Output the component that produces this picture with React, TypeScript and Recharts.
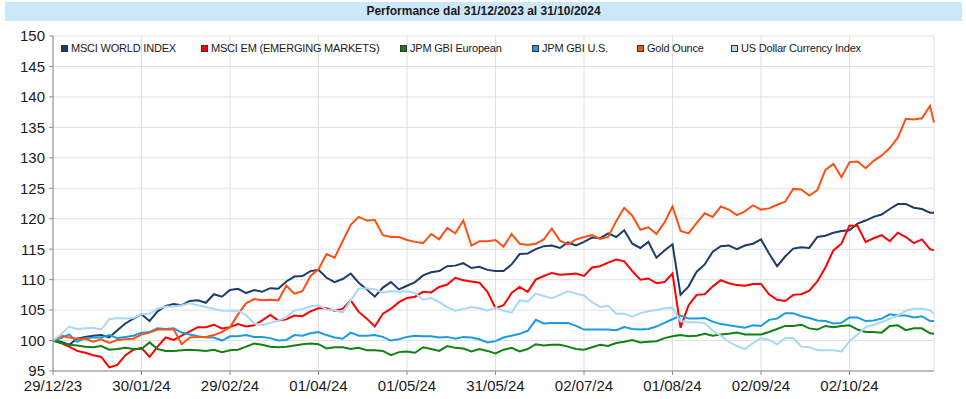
import React from 'react';
import { LineChart, Line, XAxis, YAxis, CartesianGrid } from 'recharts';

// trading-day index of each sample (every second session + last one)
const days = [
  0, 2, 4, 6, 8, 10, 12, 14, 16, 18, 20, 22, 24, 26, 28, 30, 32, 34, 36, 38, 40, 42, 44,
  46, 48, 50, 52, 54, 56, 58, 60, 62, 64, 66, 68, 70, 72, 74, 76, 78, 80, 82, 84, 86, 88,
  90, 92, 94, 96, 98, 100, 102, 104, 106, 108, 110, 112, 114, 116, 118, 120, 122, 124, 126, 128, 130, 132,
  134, 136, 138, 140, 142, 144, 146, 148, 150, 152, 154, 156, 158, 160, 162, 164, 166, 168, 170, 172, 174, 176,
  178, 180, 182, 184, 186, 188, 190, 192, 194, 196, 198, 200, 202, 204, 206, 208, 210, 212, 214, 216, 218, 219,
];

const tickDays = [0, 22, 44, 66, 88, 110, 132, 154, 176, 198];
const tickLabels = ['29/12/23', '30/01/24', '29/02/24', '01/04/24', '01/05/24', '31/05/24', '02/07/24', '01/08/24', '02/09/24', '02/10/24'];
const yTicks = [95, 100, 105, 110, 115, 120, 125, 130, 135, 140, 145, 150];

const msciWorld = [
  100, 99.8, 99.3, 100.3, 100.6, 100.8, 100.9, 100.5, 101.7, 102.8, 103.6, 104.3, 103.2, 104.8, 105.7, 106.0, 105.8, 106.5, 106.6, 106.2, 107.6, 107.2, 108.3,
  108.5, 107.8, 108.3, 108.0, 108.6, 108.5, 109.7, 110.5, 110.6, 111.4, 111.6, 110.3, 109.6, 110.1, 111.0, 109.5, 108.4, 107.2, 108.7, 109.6, 108.4, 109.0,
  109.6, 110.7, 111.2, 111.4, 112.2, 112.3, 112.7, 111.9, 112.1, 111.6, 111.4, 111.4, 112.5, 114.2, 114.3, 115.0, 115.5, 115.6, 115.2, 116.1, 115.6, 116.2,
  116.9, 116.8, 117.6, 117.0, 118.1, 115.9, 115.2, 116.2, 113.6, 114.8, 115.8, 107.5, 108.9, 111.3, 112.5, 114.6, 115.5, 115.6, 115.0, 115.6, 115.9, 116.6,
  114.3, 112.2, 113.8, 115.1, 115.3, 115.2, 117.0, 117.2, 117.7, 118.0, 118.1, 119.2, 119.7, 120.3, 120.7, 121.6, 122.4, 122.4, 121.8, 121.6, 121.0, 121.0,
];

const msciEm = [
  100, 99.6, 99.0, 98.3, 98.0, 97.6, 97.3, 95.6, 96.0, 97.6, 98.5, 98.8, 97.3, 99.0, 100.5, 100.1, 100.8, 101.5, 102.2, 102.2, 102.6, 102.0, 102.2,
  102.7, 102.3, 102.5, 103.3, 104.2, 103.3, 103.5, 104.1, 104.0, 104.8, 105.3, 105.3, 104.9, 105.2, 106.6, 104.7, 103.6, 102.3, 104.4, 105.2, 106.3, 107.0,
  107.2, 108.0, 107.9, 108.8, 109.2, 110.3, 109.9, 109.7, 109.5, 108.0, 105.3, 105.8, 107.8, 108.8, 108.0, 110.0, 110.6, 111.1, 110.8, 110.9, 111.0, 110.6,
  112.0, 112.2, 112.8, 113.3, 113.0, 111.4, 110.0, 110.2, 109.4, 109.6, 111.0, 102.1, 105.8, 107.5, 107.6, 108.9, 109.9, 109.4, 109.1, 109.0, 109.3, 109.3,
  107.6, 106.7, 106.5, 107.5, 107.6, 108.2, 109.7, 112.0, 114.8, 115.9, 118.9, 118.8, 116.2, 116.8, 117.3, 116.3, 117.7, 117.0, 116.0, 116.6, 115.0, 114.8,
];

const gbiEuropean = [
  100, 99.6, 99.3, 99.2, 99.0, 98.9, 99.1, 98.5, 98.6, 98.8, 98.6, 98.6, 99.7, 98.6, 98.3, 98.3, 98.4, 98.5, 98.4, 98.3, 98.5, 98.1, 98.4,
  98.5, 99.0, 99.5, 99.3, 99.0, 98.9, 99.0, 99.2, 99.4, 99.5, 99.4, 98.7, 98.9, 98.9, 98.6, 98.8, 98.4, 98.4, 98.3, 97.6, 98.1, 98.2,
  98.0, 98.9, 98.6, 98.3, 99.1, 98.8, 98.7, 98.2, 98.6, 98.3, 97.9, 98.5, 98.8, 98.2, 98.6, 99.4, 99.2, 99.3, 99.3, 99.0, 98.6, 98.5,
  98.9, 99.3, 99.1, 99.6, 99.8, 100.1, 99.7, 99.8, 99.9, 100.4, 100.7, 100.9, 100.7, 100.8, 101.1, 100.8, 101.0, 101.1, 101.3, 101.0, 101.0, 101.0,
  101.4, 101.9, 102.4, 102.4, 102.6, 102.0, 101.8, 102.4, 102.2, 102.4, 102.5, 101.8, 101.4, 101.4, 101.3, 102.4, 102.5, 101.7, 102.0, 102.0, 101.2, 101.1,
];

const gbiUs = [
  100, 100.4, 101.0, 99.8, 100.4, 100.5, 100.5, 100.9, 100.4, 100.6, 100.8, 101.3, 101.4, 102.0, 101.9, 102.0, 101.3, 101.0, 100.7, 100.5, 100.5, 100.0, 100.7,
  100.7, 100.9, 100.6, 100.6, 100.4, 100.0, 100.1, 100.9, 100.8, 101.2, 101.4, 100.9, 100.5, 100.3, 101.3, 100.8, 100.8, 100.9, 100.6, 100.0, 100.2, 100.6,
  100.8, 100.7, 100.7, 100.5, 100.6, 100.3, 100.6, 100.5, 100.2, 99.7, 99.9, 100.5, 100.8, 101.1, 101.6, 103.4, 102.8, 102.9, 102.9, 102.9, 102.4, 101.8,
  101.8, 101.8, 101.8, 101.7, 102.2, 101.9, 101.8, 101.9, 102.3, 102.9, 103.5, 104.1, 103.6, 103.6, 103.7, 103.1, 102.7, 102.5, 102.3, 102.1, 102.5, 102.4,
  103.4, 103.6, 104.5, 104.5, 104.0, 103.7, 103.3, 103.2, 102.8, 102.9, 103.8, 103.8, 103.2, 103.3, 103.6, 104.3, 104.1, 104.1, 103.8, 104.0, 103.2, 103.2,
];

const goldOunce = [
  100, 100.8, 100.5, 100.3, 100.3, 99.8, 100.2, 99.6, 100.1, 100.2, 100.3, 101.0, 101.3, 101.8, 101.8, 101.8, 99.4, 100.5, 100.6, 100.6, 100.9, 101.4, 102.2,
  104.3, 106.1, 106.8, 106.6, 106.7, 106.6, 109.0, 107.7, 108.1, 110.6, 111.7, 114.2, 113.6, 116.3, 119.0, 120.3, 119.7, 119.8, 117.3, 117.0, 117.0, 116.5,
  116.2, 116.0, 117.5, 116.6, 118.5, 117.6, 119.7, 115.6, 116.3, 116.3, 116.5, 115.4, 117.5, 115.9, 115.7, 115.9, 116.6, 118.4, 116.4, 115.8, 116.6, 117.0,
  117.3, 116.7, 117.0, 119.6, 121.8, 120.5, 118.2, 118.6, 117.5, 119.4, 122.0, 118.0, 117.6, 119.3, 120.9, 120.3, 122.0, 121.5, 120.6, 121.2, 122.2, 121.5,
  121.7, 122.3, 122.8, 124.9, 124.8, 123.8, 124.7, 128.0, 129.0, 126.8, 129.3, 129.4, 128.3, 129.5, 130.4, 131.6, 133.3, 136.4, 136.3, 136.5, 138.5, 135.8,
];

const usDollar = [
  100, 101.0, 102.3, 101.9, 102.0, 102.1, 101.8, 103.5, 103.7, 103.6, 103.7, 104.3, 104.4, 105.2, 105.6, 105.6, 105.8, 106.1, 105.8, 105.5, 105.2, 104.9, 104.9,
  104.9, 104.2, 102.8, 102.5, 102.9, 103.3, 103.8, 104.9, 105.2, 105.6, 105.8, 105.1, 105.0, 104.6, 106.6, 108.5, 108.6, 108.4, 107.9, 108.1, 108.0, 108.1,
  107.8, 106.7, 107.0, 106.3, 105.5, 104.9, 105.2, 105.5, 105.3, 104.9, 105.4, 104.9, 104.6, 106.6, 106.4, 107.7, 107.3, 106.9, 107.5, 108.1, 107.7, 107.4,
  106.3, 105.5, 105.7, 104.4, 104.4, 103.9, 104.5, 104.8, 105.0, 105.3, 105.4, 103.2, 103.0, 103.0, 102.9, 101.6, 100.8, 99.8, 99.1, 98.6, 99.6, 100.4,
  100.1, 99.4, 100.4, 100.4, 99.0, 98.9, 98.4, 98.4, 98.4, 98.2, 99.9, 101.0, 102.2, 102.6, 103.0, 103.6, 104.1, 104.9, 105.2, 105.2, 105.0, 104.4,
];

const seriesNames = ['MSCI WORLD INDEX', 'MSCI EM (EMERGING MARKETS)', 'JPM GBI European', 'JPM GBI U.S.', 'Gold Ounce', 'US Dollar Currency Index'];
const seriesKeys = ['world', 'em', 'gbiEu', 'gbiUs', 'gold', 'usd'];
const seriesColors = ['#1c3c6a', '#ff0000', '#138013', '#1b9be0', '#ff5014', '#a9d8f7'];
const seriesValues = [msciWorld, msciEm, gbiEuropean, gbiUs, goldOunce, usDollar];

// left offset of each legend entry (px, relative to chart)
const legendLeft = [61, 201, 400, 532, 637, 731];

const data = days.map((t, i) => {
  const row: any = { t };
  seriesKeys.forEach((k, j) => {
    row[k] = seriesValues[j][i];
  });
  return row;
});

const FONT = '"Liberation Sans", Arial, sans-serif';

const App = () => {
  return (
    <div style={{ position: 'absolute', left: 0, top: 0, width: 966, height: 399, background: '#fff', fontFamily: FONT }}>
      <div
        style={{
          position: 'absolute',
          left: 5,
          top: 2,
          width: 957,
          height: 19,
          background: '#cce7fa',
          textAlign: 'center',
          fontWeight: 'bold',
          fontSize: 12,
          lineHeight: '19px',
          color: '#1a1a1a',
        }}
      >
        Performance dal 31/12/2023 al 31/10/2024
      </div>
      <LineChart
        width={966}
        height={399}
        data={data}
        margin={{ top: 36, right: 32, bottom: 0, left: 0 }}
        style={{ position: 'absolute', left: 0, top: 0 }}
      >
        <CartesianGrid stroke="#e0e0e0" strokeWidth={1} />
        <XAxis
          dataKey="t"
          type="number"
          domain={[0, 219]}
          ticks={tickDays}
          tickFormatter={(v: number) => tickLabels[tickDays.indexOf(v)]}
          stroke="#8a8a8a"
          height={28}
          tickSize={4}
          tickMargin={5}
          tick={{ fill: '#1a1a1a', fontSize: 15, fontFamily: FONT }}
          interval={0}
        />
        <YAxis
          domain={[95, 150]}
          ticks={yTicks}
          width={53}
          stroke="#8a8a8a"
          tickSize={4}
          tickMargin={4}
          tick={{ fill: '#1a1a1a', fontSize: 15, fontFamily: FONT }}
          interval={0}
        />
        {seriesKeys.map((k, j) => (
          <Line
            key={k}
            type="linear"
            dataKey={k}
            name={seriesNames[j]}
            stroke={seriesColors[j]}
            strokeWidth={2}
            dot={false}
            isAnimationActive={false}
          />
        ))}
      </LineChart>
      {seriesNames.map((name, j) => (
        <div
          key={name}
          style={{
            position: 'absolute',
            left: legendLeft[j],
            top: 41,
            height: 14,
            display: 'flex',
            alignItems: 'center',
            fontSize: 11,
            letterSpacing: -0.2,
            color: '#1a1a1a',
            whiteSpace: 'nowrap',
          }}
        >
          <span
            style={{
              display: 'inline-block',
              width: 5,
              height: 5,
              background: seriesColors[j],
              border: '1px solid #333',
              marginRight: 3,
            }}
          />
          {name}
        </div>
      ))}
    </div>
  );
};

export default App;
